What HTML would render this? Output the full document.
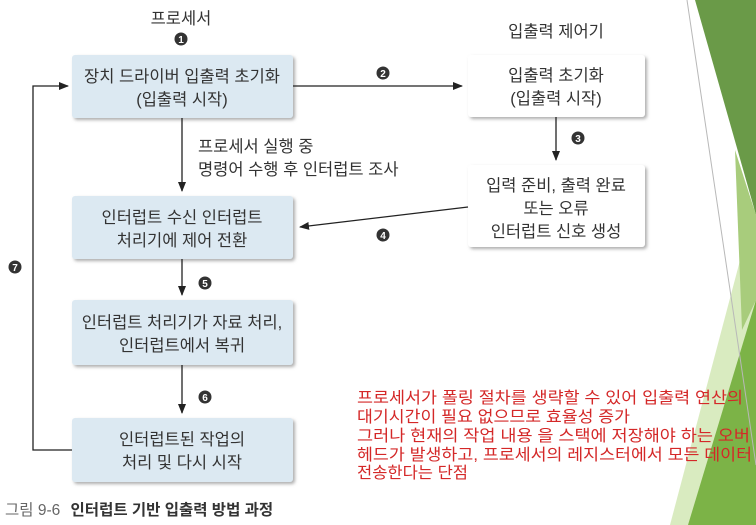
<!DOCTYPE html>
<html><head><meta charset="utf-8"><style>
body{margin:0;background:#fff;}
svg{display:block;font-family:"Liberation Sans","Noto Sans CJK KR",sans-serif;}
</style></head><body>
<svg width="756" height="525" viewBox="0 0 756 525" xmlns="http://www.w3.org/2000/svg">
<defs>
<marker id="a" markerWidth="10" markerHeight="8" refX="9" refY="4" orient="auto" markerUnits="userSpaceOnUse"><path d="M0,0 L10,4 L0,8 z" fill="#222"/></marker>
<filter id="s" x="-10%" y="-10%" width="130%" height="140%"><feDropShadow dx="2" dy="2" stdDeviation="1.5" flood-color="#777" flood-opacity="0.6"/></filter>
</defs>
<polygon points="670,525 756,200 756,525" fill="#d9ebc0"/>
<polygon points="688,525 756,300 756,525" fill="#7cb347"/>
<polygon points="695,0 756,0 756,215" fill="#6a9a48"/>
<polygon points="735,150 756,215 756,300 742,330" fill="#a8cc7c"/>
<line x1="687" y1="0" x2="756" y2="465" stroke="#b8b8b8" stroke-width="1"/>
<g filter="url(#s)">
<rect x="72" y="55" width="221" height="63" rx="3" fill="#dce9f2"/>
<rect x="72" y="196" width="221" height="63" rx="3" fill="#dce9f2"/>
<rect x="72" y="300" width="221" height="65" rx="3" fill="#dce9f2"/>
<rect x="72" y="418" width="221" height="64" rx="3" fill="#dce9f2"/>
<rect x="468" y="55" width="177" height="62" rx="3" fill="#fff"/>
<rect x="468" y="165" width="177" height="82" rx="3" fill="#fff"/>
</g>
<g font-size="16.5" fill="#333" text-anchor="middle">
<text x="182" y="82">장치 드라이버 입출력 초기화</text>
<text x="182" y="105">(입출력 시작)</text>
<text x="182" y="223">인터럽트 수신 인터럽트</text>
<text x="182" y="246">처리기에 제어 전환</text>
<text x="182" y="328">인터럽트 처리기가 자료 처리,</text>
<text x="182" y="351">인터럽트에서 복귀</text>
<text x="182" y="445">인터럽트된 작업의</text>
<text x="182" y="468">처리 및 다시 시작</text>
<text x="556" y="81">입출력 초기화</text>
<text x="556" y="104">(입출력 시작)</text>
<text x="556" y="191">입력 준비, 출력 완료</text>
<text x="556" y="214">또는 오류</text>
<text x="556" y="237">인터럽트 신호 생성</text>
<text x="181" y="24">프로세서</text>
<text x="556" y="37">입출력 제어기</text>
</g>
<g font-size="16.5" fill="#333">
<text x="198" y="152">프로세서 실행 중</text>
<text x="198" y="175">명령어 수행 후 인터럽트 조사</text>
</g>
<g stroke="#222" stroke-width="1.3" fill="none">
<line x1="293" y1="86" x2="462" y2="86" marker-end="url(#a)"/>
<line x1="556" y1="117" x2="556" y2="160" marker-end="url(#a)"/>
<line x1="468" y1="207" x2="300" y2="227" marker-end="url(#a)"/>
<line x1="182" y1="118" x2="182" y2="191" marker-end="url(#a)"/>
<line x1="182" y1="259" x2="182" y2="295" marker-end="url(#a)"/>
<line x1="182" y1="365" x2="182" y2="413" marker-end="url(#a)"/>
<polyline points="72,450 33,450 33,86 68,86" marker-end="url(#a)"/>
</g>
<g font-size="10" font-weight="bold" fill="#fff" text-anchor="middle">
<circle cx="181" cy="39" r="6.5" fill="#333"/><text x="181" y="43">1</text>
<circle cx="383" cy="73" r="6.5" fill="#333"/><text x="383" y="77">2</text>
<circle cx="578" cy="138" r="6.5" fill="#333"/><text x="578" y="142">3</text>
<circle cx="383" cy="235" r="6.5" fill="#333"/><text x="383" y="239">4</text>
<circle cx="205" cy="283" r="6.5" fill="#333"/><text x="205" y="287">5</text>
<circle cx="205" cy="397" r="6.5" fill="#333"/><text x="205" y="401">6</text>
<circle cx="15" cy="267" r="6.5" fill="#333"/><text x="15" y="271">7</text>
</g>
<text x="5" y="515" font-size="15.5" fill="#666">그림 9-6 <tspan font-weight="bold" fill="#333" dx="6">인터럽트 기반 입출력 방법 과정</tspan></text>
<g font-size="16" fill="#d42828">
<text x="357" y="403" textLength="386" lengthAdjust="spacingAndGlyphs">프로세서가 폴링 절차를 생략할 수 있어 입출력 연산의</text>
<text x="357" y="422" textLength="273" lengthAdjust="spacingAndGlyphs">대기시간이 필요 없으므로 효율성 증가</text>
<text x="357" y="441" textLength="393" lengthAdjust="spacingAndGlyphs">그러나 현재의 작업 내용 을 스택에 저장해야 하는 오버</text>
<text x="357" y="460" textLength="395" lengthAdjust="spacingAndGlyphs">헤드가 발생하고, 프로세서의 레지스터에서 모든 데이터</text>
<text x="357" y="478" textLength="111" lengthAdjust="spacingAndGlyphs">전송한다는 단점</text>
</g>
</svg>
</body></html>
